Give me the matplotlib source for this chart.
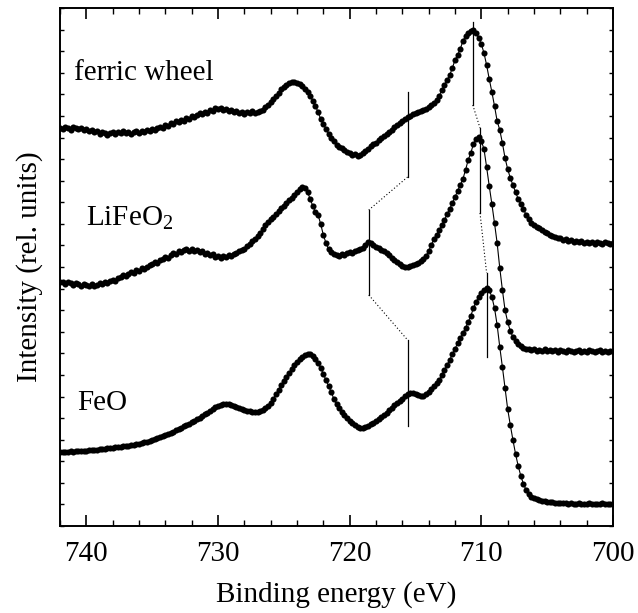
import numpy as np
import matplotlib
matplotlib.use("Agg")
import matplotlib.pyplot as plt
from matplotlib.ticker import MultipleLocator

plt.rcParams['font.family'] = ['Liberation Serif', 'DejaVu Serif']
plt.rcParams['mathtext.fontset'] = 'custom'
plt.rcParams['mathtext.rm'] = 'Liberation Serif'
plt.rcParams['mathtext.it'] = 'Liberation Serif:italic'

# Binding-energy grid, 0.2 eV steps from 742 eV down to 700 eV
energy = np.linspace(742.0, 700.0, 211)

# Fe 2p spectra (rel. units, vertically offset)
ferric_wheel = [
    398, 397, 399, 398, 396, 399, 398, 397, 398, 396,
    397, 395, 396, 394, 395, 392, 394, 393, 391, 393,
    394, 392, 394, 393, 395, 393, 394, 392, 394, 395,
    393, 395, 394, 396, 395, 397, 396, 398, 399, 398,
    401, 400, 403, 402, 405, 404, 406, 405, 408, 407,
    410, 409, 411, 413, 412, 414, 413, 416, 415, 418,
    417, 418, 416, 417, 415, 416, 414, 415, 413, 414,
    412, 414, 413, 415, 413, 414, 415, 416, 419, 421,
    424, 427, 430, 433, 437, 439, 441, 443, 444, 444,
    443, 442, 440, 437, 434, 430, 425, 420, 414, 407,
    402, 397, 392, 388, 385, 381, 379, 378, 376, 374,
    373, 371, 372, 370, 371, 373, 375, 377, 380, 382,
    383, 386, 388, 390, 392, 394, 396, 399, 401, 403,
    405, 407, 409, 410, 412, 413, 414, 415, 416, 417,
    419, 421, 423, 426, 430, 436, 441, 446, 451, 458,
    466, 471, 477, 485, 490, 493, 495, 496, 493, 488,
    482, 473, 461, 447, 434, 420, 405, 396, 383, 368,
    357, 348, 341, 334, 327, 322, 317, 311, 307, 303,
    301, 299, 298, 296, 294, 293, 291, 290, 289, 288,
    288, 286, 287, 285, 286, 284, 285, 284, 285, 283,
    284, 283, 284, 282, 284, 283, 282, 284, 283, 282,
    283,
]

lifeo2 = [
    244, 244, 242, 244, 243, 241, 243, 242, 240, 242,
    241, 240, 242, 240, 241, 243, 242, 244, 243, 245,
    246, 245, 248, 249, 251, 250, 252, 254, 253, 256,
    255, 258, 257, 259, 261, 262, 264, 263, 266, 267,
    269, 268, 271, 273, 272, 275, 274, 276, 277, 275,
    277, 275, 276, 274, 275, 272, 273, 271, 272, 269,
    270, 268, 270, 269, 271, 270, 272, 273, 275, 276,
    277, 280, 282, 285, 287, 290, 293, 297, 301, 304,
    307, 309, 312, 315, 318, 320, 323, 326, 328, 331,
    334, 337, 339, 338, 334, 327, 320, 314, 311, 302,
    291, 283, 277, 274, 272, 271, 270, 272, 271, 273,
    274, 273, 275, 276, 277, 278, 281, 284, 283, 281,
    279, 278, 276, 275, 273, 271, 268, 266, 264, 262,
    260, 259, 259, 260, 261, 262, 263, 265, 267, 270,
    275, 281, 287, 291, 296, 301, 306, 312, 317, 323,
    329, 335, 341, 347, 356, 366, 373, 382, 387, 389,
    385, 377, 359, 340, 322, 303, 283, 258, 236, 216,
    204, 195, 189, 185, 182, 180, 178, 177, 177, 176,
    177, 175, 176, 175, 177, 175, 176, 175, 176, 174,
    176, 175, 174, 176, 175, 174, 175, 176, 174, 175,
    174, 176, 175, 174, 175, 176, 174, 175, 174, 175,
    175,
]

feo = [
    74, 74, 74, 74, 75, 74, 75, 75, 75, 75,
    75, 76, 76, 76, 76, 77, 77, 77, 78, 78,
    78, 79, 79, 79, 80, 80, 80, 81, 81, 82,
    82, 83, 84, 84, 85, 86, 87, 88, 89, 90,
    91, 92, 93, 94, 96, 97, 98, 100, 101, 102,
    104, 105, 107, 108, 110, 112, 113, 115, 117, 119,
    120, 121, 122, 122, 122, 121, 120, 119, 118, 117,
    116, 115, 115, 114, 114, 114, 115, 116, 118, 120,
    123, 127, 132, 136, 141, 145, 149, 153, 157, 161,
    164, 167, 169, 171, 172, 172, 170, 167, 163, 158,
    152, 146, 140, 134, 127, 122, 118, 114, 111, 108,
    105, 103, 101, 99, 98, 98, 99, 100, 102, 103,
    105, 107, 109, 111, 113, 116, 118, 121, 123, 125,
    127, 130, 132, 133, 133, 132, 131, 130, 130, 132,
    134, 137, 140, 143, 146, 151, 156, 161, 166, 172,
    177, 183, 188, 193, 198, 204, 210, 218, 224, 229,
    233, 236, 238, 236, 229, 218, 201, 179, 159, 138,
    117, 101, 86, 72, 60, 50, 42, 36, 32, 29,
    28, 27, 26, 25, 25, 24, 24, 24, 23, 23,
    23, 23, 23, 22, 23, 22, 22, 23, 22, 22,
    22, 23, 22, 22, 22, 22, 23, 22, 22, 22,
    22,
]

series = [ferric_wheel, lifeo2, feo]
names = ['ferric wheel', r'LiFeO$_\mathrm{2}$', 'FeO']
label_pos = [(740.9, 453), (740.0, 308), (740.7, 123)]

# Peak markers: (energy, lower end, upper end) for each spectrum
satellite_marks = [(715.6, 349, 434), (718.55, 231, 316), (715.6, 100, 186)]
main_marks = [(710.65, 421, 504), (710.1, 313, 398), (709.6, 169, 253)]

fig = plt.figure(figsize=(6.38, 6.13), dpi=100)
ax = fig.add_axes([60 / 638, 87 / 613, 553 / 638, 518 / 613])

for y in series:
    ax.plot(energy, y, '-', color='black', lw=0.8,
            marker='o', ms=4.4, mec='black', mfc='black', mew=0)

for marks in (satellite_marks, main_marks):
    for e, lo, hi in marks:
        ax.plot([e, e], [lo, hi], color='black', lw=0.9)
    for (e1, lo1, hi1), (e2, lo2, hi2) in zip(marks[:-1], marks[1:]):
        ax.plot([e1, e2], [lo1, hi2], color='black', lw=0.8,
                linestyle=(0, (1, 2)))

for (x, y), name in zip(label_pos, names):
    ax.text(x, y, name, fontsize=21, ha='left', va='center')

ax.set_xlim(742, 700)
ax.set_ylim(0, 518)
ax.xaxis.set_major_locator(MultipleLocator(10))
ax.xaxis.set_minor_locator(MultipleLocator(2))
ax.yaxis.set_major_locator(MultipleLocator(518 / 24))
ax.tick_params(axis='x', which='major', direction='in', length=8, width=1.2,
               top=True, bottom=True, labelsize=21, pad=11)
ax.tick_params(axis='x', which='minor', direction='in', length=4.5, width=1.0,
               top=True, bottom=True)
ax.tick_params(axis='y', which='major', direction='in', length=3, width=1.0,
               left=True, right=True, labelleft=False)
for s in ax.spines.values():
    s.set_linewidth(1.4)

ax.set_xlabel('Binding energy (eV)', fontsize=21, labelpad=10)
ax.set_ylabel('Intensity (rel. units)', fontsize=21, labelpad=12)

fig.savefig('out.png', dpi=100)
